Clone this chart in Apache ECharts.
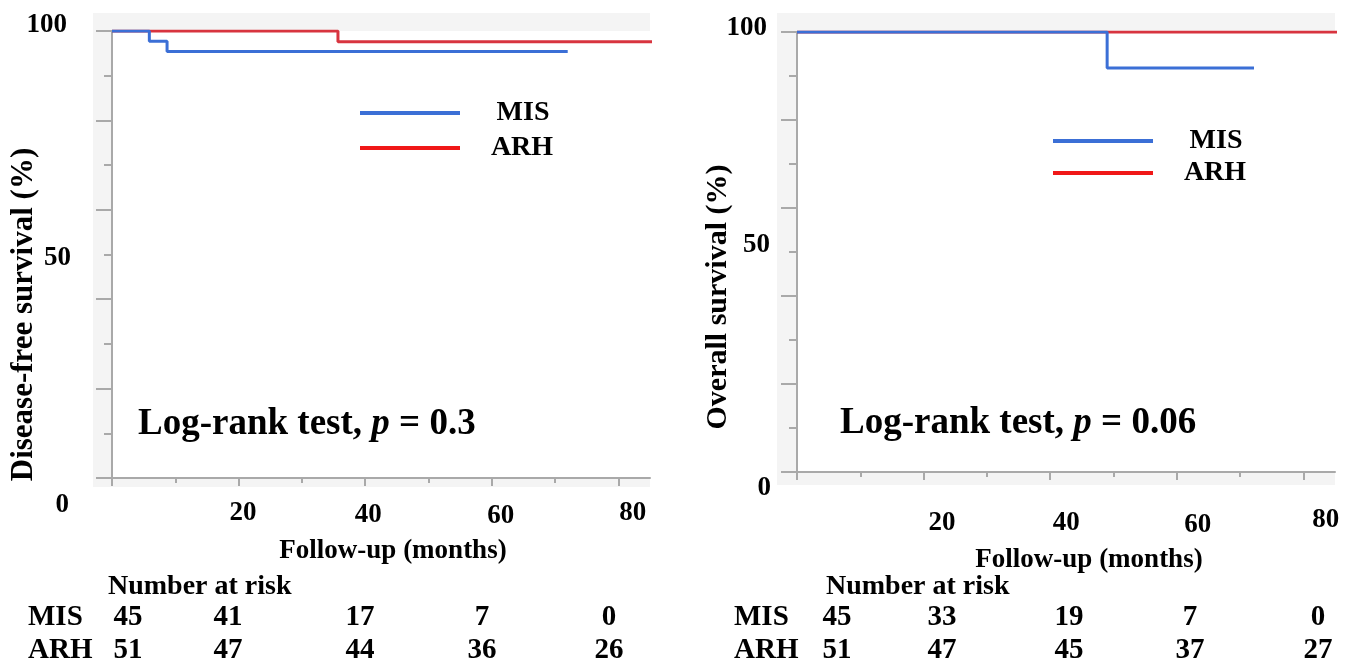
<!DOCTYPE html>
<html><head><meta charset="utf-8">
<script src="https://cdn.jsdelivr.net/npm/echarts@6/dist/echarts.min.js"></script>
<style>html,body{margin:0;padding:0;background:#fff}#c{width:1360px;height:666px}</style>
</head><body><div id="c"></div>
<script>
// ---- data ----
const groups = ['MIS', 'ARH'];
const dfsMIS = [[0, 100], [5.9, 97.7], [8.7, 95.4], [72, 95.4]];
const dfsARH = [[0, 100], [35.7, 97.6], [88, 97.6]];
const osMIS = [[0, 100], [49, 91.8], [72.2, 91.8]];
const osARH = [[0, 100], [88, 100]];
const xMajorTicks = [0, 20, 40, 60, 80];
const xMinorTicks = [10, 30, 50, 70];
const xTickLabels = [20, 40, 60, 80];
const yMajorTicks = [0, 20, 40, 60, 80, 100];
const yMinorTicks = [10, 30, 50, 70, 90];
const yTickLabels = [0, 50, 100];
const riskDfsMIS = [45, 41, 17, 7, 0];
const riskDfsARH = [51, 47, 44, 36, 26];
const riskOsMIS = [45, 33, 19, 7, 0];
const riskOsARH = [51, 47, 45, 37, 27];
const pTextDfs = 'p = 0.3';
const pTextOs = 'p = 0.06';

// ---- style ----
const FF = '"Liberation Serif", "Times New Roman", serif';
const AX = '#a9a9a9';
const BLUE = '#3b6fd6';
const RED = '#d8343f';
const LEG_RED = '#f01818';
const BG = '#f4f4f4';

function f(size) { return 'bold ' + size + 'px ' + FF; }

function richLabels(pads, size) {
  const r = {};
  Object.keys(pads).forEach(k => {
    r['v' + k] = { fontSize: size, fontWeight: 'bold', fontFamily: FF, color: '#000', padding: pads[k] };
  });
  return r;
}
function fmt(v) { return '{v' + v + '|' + v + '}'; }

function xAxes(grid, margin, pads, nameGap, namePad) {
  return [{
    type: 'value', gridIndex: grid, min: 0, max: 85, position: 'bottom',
    axisLine: { show: true, onZero: false, lineStyle: { color: AX, width: 2 } },
    axisTick: { show: true, customValues: xMajorTicks, length: 8, lineStyle: { color: AX, width: 2 } },
    axisLabel: { show: true, customValues: xTickLabels, margin: margin, formatter: fmt, rich: richLabels(pads, 27) },
    splitLine: { show: false },
    name: 'Follow-up (months)', nameLocation: 'middle', nameGap: nameGap, nameMoveOverlap: false,
    nameTextStyle: { fontSize: 27, fontWeight: 'bold', fontFamily: FF, color: '#000', padding: [0, 0, 0, namePad] }
  }, {
    type: 'value', gridIndex: grid, min: 0, max: 85, position: 'bottom',
    axisLine: { show: false },
    axisTick: { show: true, customValues: xMinorTicks, length: 5, lineStyle: { color: AX, width: 2 } },
    axisLabel: { show: false }, splitLine: { show: false }
  }];
}
function yAxes(grid, name, nameSize, margin, pads, nameGap, namePad) {
  return [{
    type: 'value', gridIndex: grid, min: 0, max: 100, position: 'left',
    axisLine: { show: true, onZero: false, lineStyle: { color: AX, width: 2 } },
    axisTick: { show: true, customValues: yMajorTicks, length: 16, lineStyle: { color: AX, width: 2 } },
    axisLabel: { show: true, customValues: yTickLabels, margin: margin, formatter: fmt, rich: richLabels(pads, 27) },
    splitLine: { show: false },
    name: name, nameLocation: 'middle', nameGap: nameGap, nameRotate: 90, nameMoveOverlap: false,
    nameTextStyle: { fontSize: nameSize, fontWeight: 'bold', fontFamily: FF, color: '#000', padding: [0, namePad, 0, 0] }
  }, {
    type: 'value', gridIndex: grid, min: 0, max: 100, position: 'left',
    axisLine: { show: false },
    axisTick: { show: true, customValues: yMinorTicks, length: 8, lineStyle: { color: AX, width: 2 } },
    axisLabel: { show: false }, splitLine: { show: false }
  }];
}

function line(name, data, xi, yi, color, z) {
  return {
    name: name, type: 'line', xAxisIndex: xi, yAxisIndex: yi, data: data, step: 'end',
    symbol: 'none', z: z, lineStyle: { color: color, width: 3 }, itemStyle: { color: color }
  };
}

function txt(x, y, s, size, align) {
  return { type: 'text', x: x, y: y, z: 5, style: { text: s, font: f(size), fill: '#000', align: align || 'center', verticalAlign: 'middle' } };
}
function rect(x, y, w, h) {
  return { type: 'rect', z: -10, shape: { x: x, y: y, width: w, height: h }, style: { fill: BG } };
}
function seg(x1, x2, y, color) {
  return { type: 'line', z: 5, shape: { x1: x1, y1: y, x2: x2, y2: y }, style: { stroke: color, lineWidth: 4 } };
}
function logRank(x, y, p) {
  return {
    type: 'text', x: x, y: y, z: 5,
    style: {
      text: '{n|Log-rank test, }{i|p}{n|' + p.slice(1) + '}',
      verticalAlign: 'middle', align: 'left',
      rich: {
        n: { fontSize: 37, fontWeight: 'bold', fontFamily: FF, fill: '#000' },
        i: { fontSize: 37, fontWeight: 'bold', fontStyle: 'italic', fontFamily: FF, fill: '#000' }
      }
    }
  };
}

const graphics = [
  // plot frames
  rect(93, 13, 557, 18), rect(93, 31, 19, 456), rect(112, 478, 538, 9),
  rect(777, 13, 558, 19), rect(777, 32, 20, 453), rect(797, 472, 538, 13),
  // legends
  seg(360, 460, 113, BLUE), seg(360, 460, 148, LEG_RED),
  txt(523, 113, groups[0], 28), txt(522, 148, groups[1], 28),
  seg(1053, 1153, 141, BLUE), seg(1053, 1153, 173, LEG_RED),
  txt(1216, 141, groups[0], 28), txt(1215, 173, groups[1], 28),
  // log-rank
  logRank(138, 424, pTextDfs), logRank(840, 423, pTextOs),
  // number at risk
  txt(108, 587, 'Number at risk', 28, 'left'), txt(826, 587, 'Number at risk', 28, 'left'),
  txt(28, 618, groups[0], 29, 'left'), txt(28, 651, groups[1], 29, 'left'),
  txt(734, 618, groups[0], 29, 'left'), txt(734, 651, groups[1], 29, 'left')
];
const colL = [128, 228, 360, 482, 609];
const colR = [837, 942, 1069, 1190, 1318];
riskDfsMIS.forEach((v, i) => graphics.push(txt(colL[i], 618, String(v), 29)));
riskDfsARH.forEach((v, i) => graphics.push(txt(colL[i], 651, String(v), 29)));
riskOsMIS.forEach((v, i) => graphics.push(txt(colR[i], 618, String(v), 29)));
riskOsARH.forEach((v, i) => graphics.push(txt(colR[i], 651, String(v), 29)));

const chart = echarts.init(document.getElementById('c'), null, { renderer: 'canvas' });
chart.setOption({
  animation: false,
  backgroundColor: '#fff',
  grid: [
    { left: 112, top: 31, width: 538, height: 447, containLabel: false, outerBoundsMode: 'none' },
    { left: 797, top: 32, width: 538, height: 440, containLabel: false, outerBoundsMode: 'none' }
  ],
  xAxis: [].concat(
    xAxes(0, 22, { 20: [0, 0, 0, 9], 40: [2, 0, 0, 6], 60: [3, 0, 0, 18], 80: [0, 0, 0, 29] }, 60, 24),
    xAxes(1, 35, { 20: [3, 0, 0, 37], 40: [3, 0, 0, 32], 60: [5, 0, 0, 42], 80: [0, 0, 0, 45] }, 75, 46)
  ),
  yAxis: [].concat(
    yAxes(0, 'Disease-free survival (%)', 31, 41, { 100: [0, 4, 11, 0], 50: [7, 0, 0, 0], 0: [54, 2, 0, 0] }, 73, 120),
    yAxes(1, 'Overall survival (%)', 30, 26, { 100: [0, 4, 8, 0], 50: [0, 1, 14, 0], 0: [32, 0, 0, 0] }, 64, 90)
  ),
  series: [
    line(groups[1], dfsARH, 0, 0, RED, 2),
    line(groups[0], dfsMIS, 0, 0, BLUE, 3),
    line(groups[1], osARH, 2, 2, RED, 2),
    line(groups[0], osMIS, 2, 2, BLUE, 3)
  ],
  graphic: graphics
});
</script>
</body></html>
